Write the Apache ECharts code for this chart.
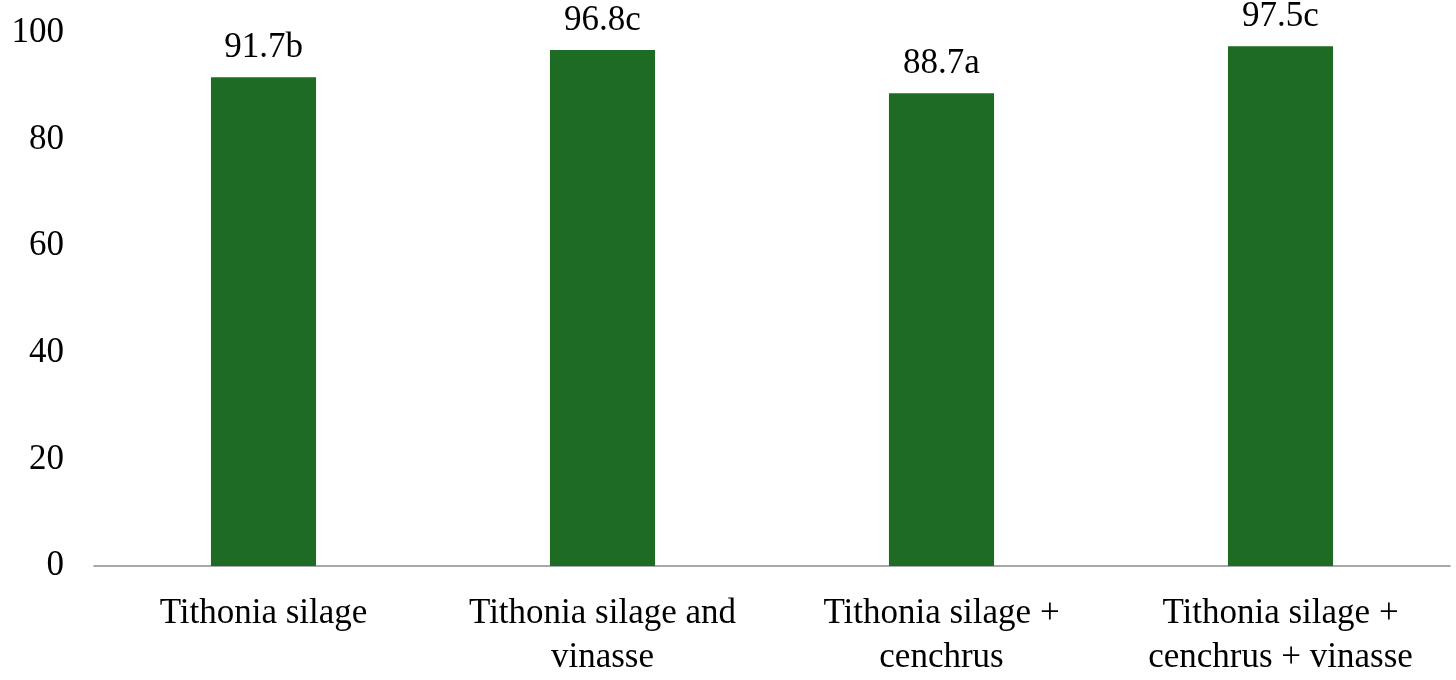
<!DOCTYPE html>
<html><head><meta charset="utf-8">
<script src="https://cdn.jsdelivr.net/npm/echarts@6/dist/echarts.min.js"></script>
<style>html,body{margin:0;padding:0;background:#fff}#c{width:1456px;height:680px}</style>
</head><body><div id="c"></div>
<script>
const categories = ["Tithonia silage", "Tithonia silage and\nvinasse", "Tithonia silage +\ncenchrus", "Tithonia silage +\ncenchrus + vinasse"];
const values = [91.7, 96.8, 88.7, 97.5];
const letters = ["b", "c", "a", "c"];
const yTicks = [0, 20, 40, 60, 80, 100];
const font = "Liberation Serif";
const chart = echarts.init(document.getElementById('c'));
chart.setOption({
  animation: false,
  grid: {left: 94, right: 6, top: 33, bottom: 112},
  xAxis: {type: 'category', data: categories,
    axisLine: {lineStyle: {color: '#8c8c8c', width: 1.5}}, axisTick: {show: false},
    axisLabel: {color: '#000', fontFamily: font, fontSize: 35, lineHeight: 44, margin: 26, interval: 0}},
  yAxis: {type: 'value', min: yTicks[0], max: yTicks[yTicks.length-1], interval: 20,
    axisLine: {show: false}, axisTick: {show: false}, splitLine: {show: false},
    axisLabel: {color: '#000', fontFamily: font, fontSize: 35, margin: 30}},
  series: [{type: 'bar', data: values, barWidth: '31%',
    itemStyle: {color: '#1E6B24'},
    label: {show: true, position: 'top', distance: 12, color: '#000', fontFamily: font, fontSize: 35,
      formatter: p => p.value.toFixed(1) + letters[p.dataIndex]}}]
});
</script></body></html>
